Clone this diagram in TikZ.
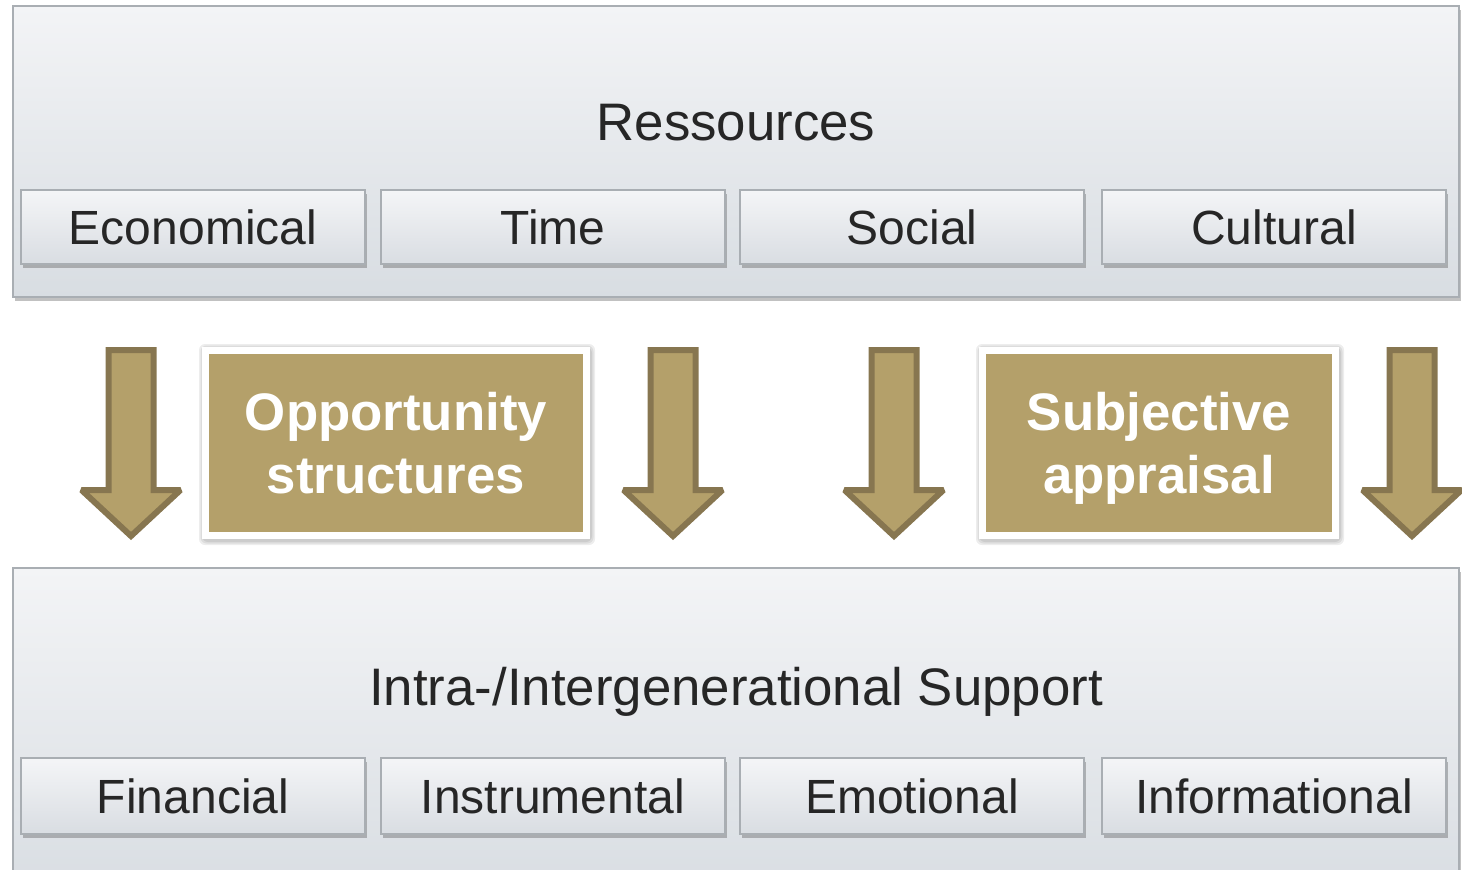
\documentclass[tikz,border=0pt]{standalone}
\usepackage{fontspec}
\setmainfont{Liberation Sans}
\usetikzlibrary{shadows}
\definecolor{boxtop}{HTML}{F3F4F6}
\definecolor{boxbot}{HTML}{D8DDE2}
\definecolor{subtop}{HTML}{F4F5F7}
\definecolor{subbot}{HTML}{D9DDE2}
\definecolor{boxline}{HTML}{A9AEB3}
\definecolor{tanfill}{HTML}{B4A06A}
\definecolor{tanline}{HTML}{877650}
\definecolor{txt}{HTML}{262626}
\begin{document}
\begin{tikzpicture}[x=0.5pt,y=-0.5pt,
  bigbox/.style={draw=boxline,line width=1pt,top color=boxtop,bottom color=boxbot,
    drop shadow={shadow xshift=0.8pt,shadow yshift=-2pt,opacity=0.35,fill=black!70}},
  subbox/.style={draw=boxline,line width=0.7pt,top color=subtop,bottom color=subbot,
    minimum width=172pt,inner sep=0pt,
    font=\fontsize{24}{28}\selectfont,text=txt,
    drop shadow={shadow xshift=1pt,shadow yshift=-1.8pt,opacity=0.35,fill=black!70}},
  title/.style={font=\fontsize{26.4}{30}\selectfont,text=txt,inner sep=0pt},
  tanbox/.style={fill=tanfill,draw=white,line width=3.5pt,inner sep=0pt,
    align=center,text=white,font=\fontsize{26.4}{31.5}\selectfont\bfseries,
    minimum height=92.5pt},
  glow/.style={fill=black,opacity=0.07,rounded corners=3pt},
  arrowshape/.style={fill=tanfill,draw=tanline,line width=3pt,line join=miter,miter limit=2},
  downarrow/.pic={\path[arrowshape] (-22.5,0) -- (-22.5,140) -- (-49.5,140) -- (0,186) -- (49.5,140) -- (22.5,140) -- (22.5,0) -- cycle;}
]
\useasboundingbox (0,0) rectangle (1462,869);
\clip (0,0) rectangle (1462,869);

% top container
\path[bigbox] (13,6) rectangle (1459,297);
\node[title] (res) at (736,123) {Ressources};
\node[subbox,minimum height=37pt] (eco) at (193,227) {Economical};
\node[subbox,minimum height=37pt] (time) at (553,227) {Time};
\node[subbox,minimum height=37pt] (soc) at (912,227) {Social};
\node[subbox,minimum height=37pt] (cul) at (1274,227) {Cultural};

% arrows
\pic at (131,350) {downarrow};
\pic at (673,350) {downarrow};
\pic at (894,350) {downarrow};
\pic at (1412,350) {downarrow};

% soft shadows of the middle boxes
\foreach \d in {1,2.5,4}{
  \path[glow] (202-\d+1,347-\d+1) rectangle (590+\d+1,539+\d+2);
  \path[glow] (979-\d+1,347-\d+1) rectangle (1339+\d+1,539+\d+2);
}

% middle boxes
\node[tanbox,minimum width=190.5pt] (opp) at (396,443) {Opportunity\\structures};
\node[tanbox,minimum width=176.5pt] (sub) at (1159,443) {Subjective\\\smash{appraisal}};

% bottom container
\path[bigbox] (13,568) rectangle (1459,900);
\node[title] (sup) at (736,692) {Intra-/Intergenerational Support};
\node[subbox,minimum height=38pt] (fin) at (193,796) {Financial};
\node[subbox,minimum height=38pt] (ins) at (553,796) {Instrumental};
\node[subbox,minimum height=38pt] (emo) at (912,796) {Emotional};
\node[subbox,minimum height=38pt] (inf) at (1274,796) {Informational};
\end{tikzpicture}
\end{document}
